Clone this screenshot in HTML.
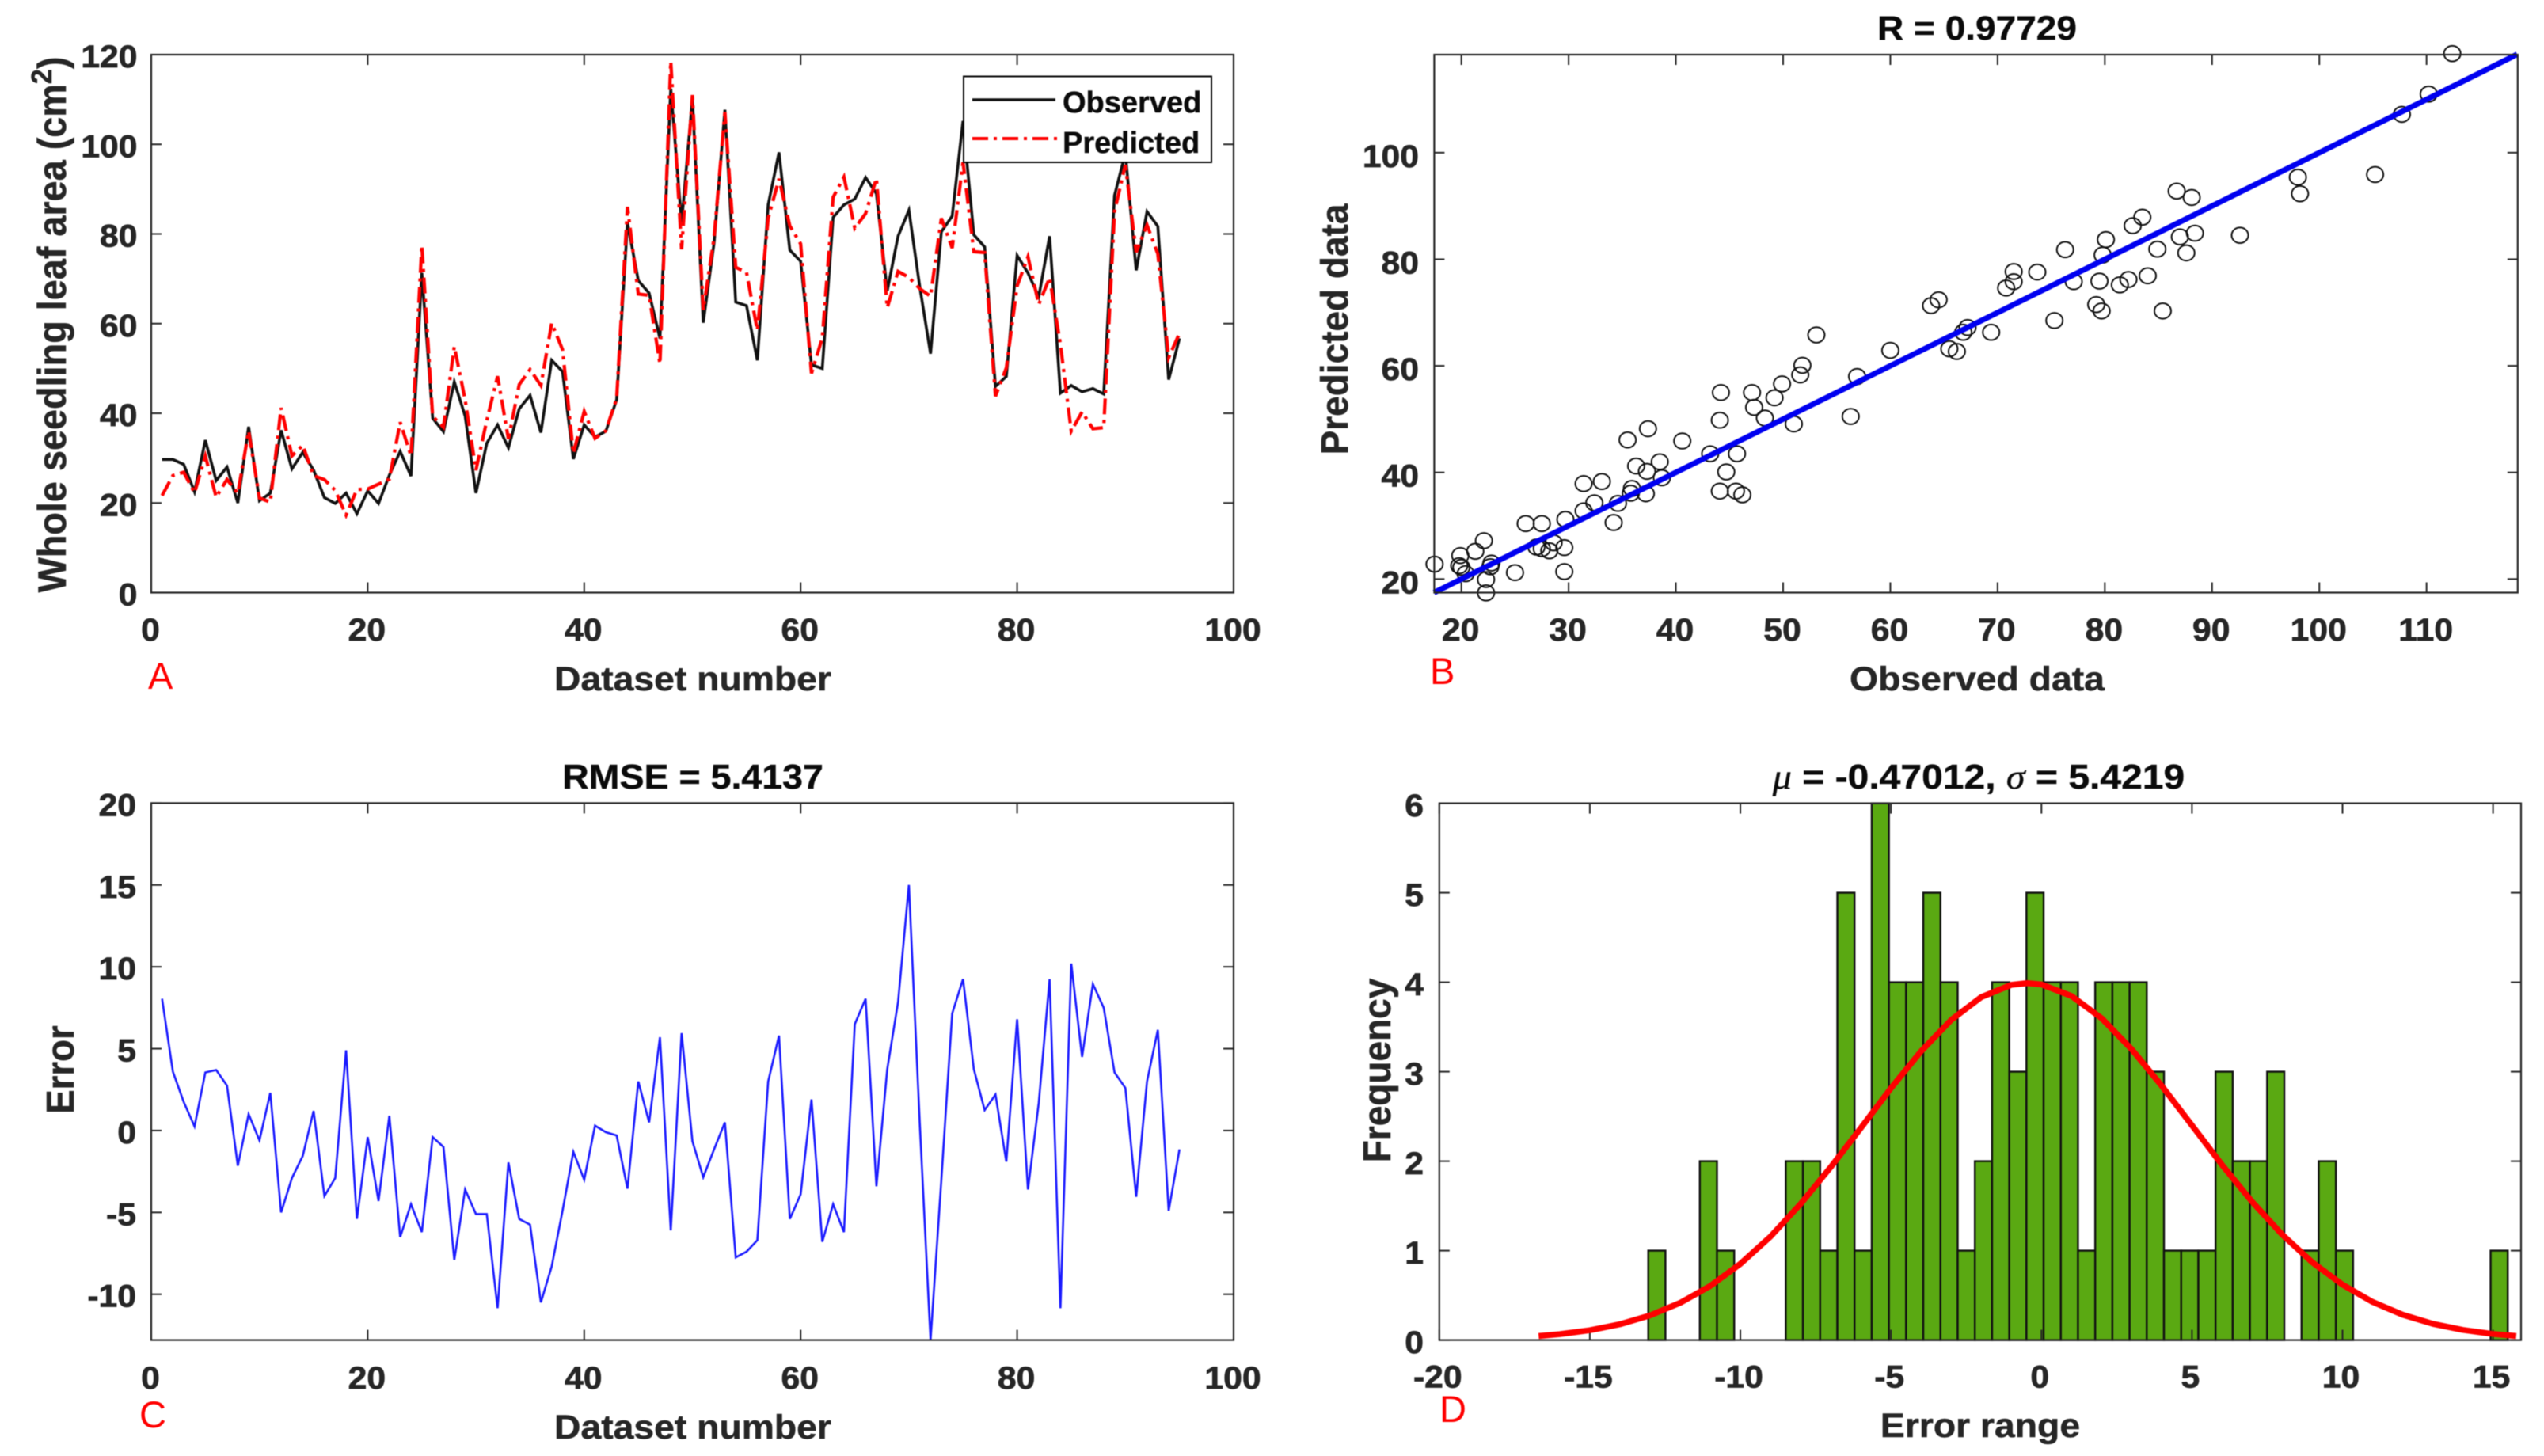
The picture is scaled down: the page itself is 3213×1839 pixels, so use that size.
<!DOCTYPE html>
<html lang="en">
<head>
<meta charset="utf-8">
<title>Leaf area model evaluation</title>
<style>
html,body{margin:0;padding:0;background:#fff;}
svg{display:block;filter:blur(0.6px);}
text{font-family:"Liberation Sans",sans-serif;}
.b{font-weight:bold;stroke:#262626;stroke-width:0.5px;}
.dark{fill:#262626;}
.blk{fill:#0a0a0a;}
.tag{fill:#ff0000;font-size:47px;font-weight:normal;}
</style>
</head>
<body>
<svg id="figure" xmlns="http://www.w3.org/2000/svg" width="3213" height="1839" viewBox="0 0 3213 1839">
<rect x="0" y="0" width="3213" height="1839" fill="#ffffff"/>
<g id="panelA"></g>
<g id="panelB"></g>
<g id="panelC"></g>
<g id="panelD"></g>

<g>
<rect x="1217" y="96.5" width="313" height="108.5" fill="#ffffff" stroke="#0a0a0a" stroke-width="2"/>
<line x1="1228" y1="126" x2="1333" y2="126" stroke="#111111" stroke-width="3.4"/>
<line x1="1228" y1="175" x2="1336" y2="175" stroke="#ff0000" stroke-width="4" stroke-dasharray="20 7 4 7"/>
<text class="b blk" font-size="38" transform="translate(1342,142) scale(1,1)">Observed</text>
<text class="b blk" font-size="38" transform="translate(1342,193) scale(1,1)">Predicted</text>
</g>

<text class="b dark" font-size="43" text-anchor="middle" transform="translate(875,872) scale(1.077,1)">Dataset number</text>
<text class="b dark" font-size="46.8" text-anchor="middle" transform="translate(83,410) rotate(-90) scale(1,1.06)">Whole seedling leaf area (cm<tspan font-size="34" dy="-17">2</tspan><tspan dy="17">)</tspan></text>
<text class="tag" x="187" y="870">A</text>

<text class="b blk" font-size="43" text-anchor="middle" transform="translate(2497,50) scale(1.07,1)">R = 0.97729</text>
<text class="b dark" font-size="43" text-anchor="middle" transform="translate(2497,872) scale(1.078,1)">Observed data</text>
<text class="b dark" font-size="46" text-anchor="middle" transform="translate(1702,416) rotate(-90) scale(1,1.04)">Predicted data</text>
<text class="tag" x="1806" y="864">B</text>

<text class="b blk" font-size="44" text-anchor="middle" transform="translate(875,996) scale(1.058,1)">RMSE = 5.4137</text>
<text class="b dark" font-size="43" text-anchor="middle" transform="translate(875,1817) scale(1.077,1)">Dataset number</text>
<text class="b dark" font-size="45.6" text-anchor="middle" transform="translate(93,1351) rotate(-90) scale(1,1.07)">Error</text>
<text class="tag" x="176" y="1803">C</text>

<text class="b blk" font-size="44" text-anchor="middle" transform="translate(2499,996) scale(1.092,1)"><tspan font-family="Liberation Serif, serif" font-style="italic" font-weight="normal">μ</tspan> = -0.47012, <tspan font-family="Liberation Serif, serif" font-style="italic" font-weight="normal">σ</tspan> = 5.4219</text>
<text class="b dark" font-size="43" text-anchor="middle" transform="translate(2501,1815) scale(1.077,1)">Error range</text>
<text class="b dark" font-size="46" text-anchor="middle" transform="translate(1756,1352) rotate(-90) scale(1,1.07)">Frequency</text>
<text class="tag" x="1818" y="1796">D</text>
</svg>

<script>
// ---- Panel A / C data (dataset number 1..95) ----
const observed = [29.7,29.7,28.6,22.5,34,25,28,20,37,20.5,22.2,36.2,27.6,31.3,27.3,21.2,19.9,22.2,17.6,22.7,
19.9,26.2,31.5,26,71.3,38.9,35.9,47,39.4,22.2,33.3,37.4,32.3,41,44,35.7,51.8,49.3,29.8,37.4,
34.7,36,43,82.5,69.6,66.8,56.7,112.4,82.5,110.2,60.2,78,107.7,64.8,64,51.8,86.5,98.2,76.4,73.9,
50.8,50,83.7,86.5,87.8,92.6,89,67.3,79.5,85.3,68.3,53.3,80.5,84,105.2,79.8,77.1,46,48.2,75.2,
71.3,66,79.5,44.5,46.2,44.8,45.5,44.3,88.6,98,71.9,85,81.7,47.5,56.7];
const predicted = [21.65,26.1,26.85,22.25,30.45,21.3,25.25,22.15,36,21.1,20.2,41.2,30.5,32.85,26.1,25.2,22.8,17.3,23,23.1,
24.2,25.3,38,30.5,77.5,39.3,36.9,54.9,43,27.3,38.4,48.25,34.25,46.4,49.75,46.2,60.1,54.2,31.1,40.4,
34.4,36.1,43.3,86.05,66.6,66.3,51,118.5,76.55,111,63.05,79.15,107.2,72.55,71.4,58.5,83.5,92.3,81.8,77.8,
48.9,56.8,88.2,92.7,81.3,84.55,92.4,63.55,71.65,70.3,67.8,66.1,83.5,76.85,96,76.05,75.85,43.8,50.1,68.4,
74.9,64.3,70.25,55.35,36,40.3,36.55,36.8,85.05,95.4,75.95,82,75.55,52.4,57.85];
const errorValues = [8.05,3.6,1.75,0.25,3.55,3.7,2.75,-2.15,1,-0.6,2.3,-5,-2.9,-1.55,1.2,-4,-2.9,4.9,-5.4,-0.4,
-4.3,0.9,-6.5,-4.5,-6.2,-0.4,-1,-7.9,-3.6,-5.1,-5.1,-10.85,-1.95,-5.4,-5.75,-10.5,-8.3,-4.9,-1.3,-3,
0.3,-0.1,-0.3,-3.55,3,0.5,5.7,-6.1,5.95,-0.65,-2.85,-1.15,0.5,-7.75,-7.4,-6.7,3,5.8,-5.4,-3.9,
1.9,-6.8,-4.5,-6.2,6.5,8.05,-3.4,3.75,7.85,15,0.5,-12.8,-3,7.15,9.25,3.75,1.25,2.2,-1.9,6.8,
-3.6,1.7,9.25,-10.85,10.2,4.5,8.95,7.5,3.55,2.6,-4.05,3,6.15,-4.9,-1.15];

// ---- Panel B data ----
const scatterObserved = [17.5,19.9,19.8,20,20.4,21.3,22.1,22.3,22.3,22.8,22.7,25,26,27.5,27,27.5,28.2,28.6,29.7,29.6,
29.6,31.4,31.4,32.4,33.1,34.2,34.6,35.5,35.9,35.8,36.3,37.3,37.2,37.4,38.5,38.7,40.6,43.2,44.2,44.1,
44.1,44.7,45.7,45.6,46.2,47.1,47.3,48.3,49.2,49.9,51,51.6,51.8,53.1,56.3,56.9,60,63.8,64.5,65.5,
66.2,66.8,67.2,69.4,70.8,71.5,71.5,73.7,75.3,76.3,77.1,79.2,79.7,79.5,79.8,80.1,81.4,82.2,82.6,83.5,
84,84.9,85.4,86.7,87,87.6,88.1,88.4,92.6,98,98.2,105.2,107.7,110.2,112.4];
const scatterPredicted = [22.8,24.4,22.5,22.2,21,25.2,27.2,19.9,17.4,23,22.3,21.2,30.4,30.4,26,25.7,25.3,26.8,31.2,25.9,
21.4,32.8,37.9,34.3,38.3,30.6,34.2,46.1,37,36.1,41.2,40.2,36,48.2,42,39,45.9,43.5,55,49.8,
36.5,40.1,43.5,36.5,35.8,55,52.2,50.2,54,56.6,49.1,58.3,60.1,65.8,50.5,58,62.9,71.3,72.4,63.2,
62.7,66.3,67.2,66.3,74.6,75.8,77.7,77.6,68.5,81.8,75.8,71.5,70.3,75.9,80.8,83.7,75.2,76.2,86.3,87.9,
76.9,81.9,70.3,92.8,84.2,81.2,91.6,84.9,84.5,95.4,92.3,95.9,107.2,111,118.6];
const fitLineX = [17.45,118.45];
const fitLineY = [17.45,118.45];

// ---- Panel D data ----
const binCounts = [1,0,0,2,1,0,0,0,2,2,1,5,1,6,4,4,5,4,1,2,4,3,5,4,4,1,4,4,4,3,1,1,1,3,2,2,3,0,1,2,1,0,0,0,0,0,0,0,0,1];
const binStart = -13.06;
const binWidth = 0.571;
const curveX = [-16.7,-16,-15,-14,-13,-12,-11,-10,-9,-8,-7,-6,-5,-4,-3,-2,-1,-0.47,0,1,2,3,4,5,6,7,8,9,10,11,12,13,14,15,15.77];
const curveY = [0.045,0.066,0.11,0.177,0.276,0.416,0.605,0.852,1.157,1.522,1.933,2.37,2.815,3.228,3.578,3.834,3.971,3.99,3.975,3.846,3.597,3.25,2.84,2.4,1.958,1.545,1.178,0.868,0.619,0.426,0.283,0.182,0.113,0.068,0.045];

// ---- Tick labels ----
const datasetTicks = [0,20,40,60,80,100];
const leafAreaTicks = [0,20,40,60,80,100,120];
const scatterXTicks = [20,30,40,50,60,70,80,90,100,110];
const scatterYTicks = [20,40,60,80,100];
const errorTicks = [-10,-5,0,5,10,15,20];
const rangeTicks = [-20,-15,-10,-5,0,5,10,15];
const frequencyTicks = [0,1,2,3,4,5,6];

const NS = 'http://www.w3.org/2000/svg';
function make(tag, parent, attrs) {
  const el = document.createElementNS(NS, tag);
  for (const k in attrs) el.setAttribute(k, attrs[k]);
  parent.appendChild(el);
  return el;
}
function scale(d0, d1, r0, r1) {
  return function (v) { return r0 + (v - d0) * (r1 - r0) / (d1 - d0); };
}
function pointsOf(xs, ys, fx, fy) {
  return xs.map(function (x, i) { return fx(x).toFixed(2) + ',' + fy(ys[i]).toFixed(2); }).join(' ');
}
const INK = '#262626';

function drawAxes(g, box, fx, fy, xTicks, yTicks, opt) {
  const frame = make('rect', g, {x: box.l, y: box.t, width: box.r - box.l, height: box.b - box.t, fill: 'none', stroke: INK, 'stroke-width': 2.2});
  
  
  xTicks.forEach(function (v) {
    const x = fx(v);
    const bottom = make('line', g, {x1: x, x2: x, y1: box.b, y2: box.b - 13, stroke: INK, 'stroke-width': 2});
    
    
    const top = make('line', g, {x1: x, x2: x, y1: box.t, y2: box.t + 13, stroke: INK, 'stroke-width': 2});
    
    
    const label = make('text', g, {'text-anchor': 'middle', 'font-size': opt.font, 'font-weight': 'bold', fill: INK, stroke: INK, 'stroke-width': 0.7,
      transform: 'translate(' + (x + opt.xShift) + ',' + opt.xBase + ') scale(' + opt.stretch + ',1)'});
    
    
    label.textContent = String(v);
  });
  yTicks.forEach(function (v) {
    const y = fy(v);
    const left = make('line', g, {x1: box.l, x2: box.l + 13, y1: y, y2: y, stroke: INK, 'stroke-width': 2});
    
    
    const right = make('line', g, {x1: box.r, x2: box.r - 13, y1: y, y2: y, stroke: INK, 'stroke-width': 2});
    
    
    const label = make('text', g, {'text-anchor': 'end', 'font-size': opt.font, 'font-weight': 'bold', fill: INK, stroke: INK, 'stroke-width': 0.7,
      transform: 'translate(' + opt.yRight + ',' + (y + opt.yDrop) + ') scale(' + opt.stretch + ',1)'});
    
    
    label.textContent = String(v);
  });
}

// Panel A
(function () {
  const g = document.getElementById('panelA');
  const box = {l: 191, r: 1558, t: 69, b: 748.5};
  const fx = scale(0, 100, box.l, box.r);
  const fy = scale(0, 120, box.b, box.t);
  const index = observed.map(function (_, i) { return i + 1; });
  const obsLine = make('polyline', g, {points: pointsOf(index, observed, fx, fy), fill: 'none', stroke: '#111111', 'stroke-width': 3.6, 'stroke-linejoin': 'miter'});
  
  
  const predLine = make('polyline', g, {points: pointsOf(index, predicted, fx, fy), fill: 'none', stroke: '#ff0000', 'stroke-width': 4.2, 'stroke-dasharray': '20 7 4 7'});
  
  
  drawAxes(g, box, fx, fy, datasetTicks, leafAreaTicks, {font: 39.5, stretch: 1.08, xBase: 809, xShift: -1, yRight: 173.5, yDrop: 16});
})();

// Panel B
(function () {
  const g = document.getElementById('panelB');
  const box = {l: 1811.4, r: 3179.8, t: 69, b: 748.5};
  const fx = scale(17.47, 118.5, box.l, box.r);
  const fy = scale(17.45, 118.4, box.b, box.t);
  scatterObserved.forEach(function (v, i) {
    const c = make('ellipse', g, {cx: fx(v), cy: fy(scatterPredicted[i]), rx: 10.5, ry: 9.8, fill: 'none', stroke: '#111111', 'stroke-width': 2});
    
    
  });
  const fit = make('line', g, {x1: fx(fitLineX[0]), y1: fy(fitLineY[0]), x2: fx(fitLineX[1]), y2: fy(fitLineY[1]), stroke: '#0000f0', 'stroke-width': 7});
  
  
  drawAxes(g, box, fx, fy, scatterXTicks, scatterYTicks, {font: 39.5, stretch: 1.08, xBase: 809, xShift: -1, yRight: 1792, yDrop: 18});
})();

// Panel C
(function () {
  const g = document.getElementById('panelC');
  const box = {l: 191, r: 1558, t: 1014.4, b: 1692.6};
  const fx = scale(0, 100, box.l, box.r);
  const fy = scale(-12.8, 20, box.b, box.t);
  const index = errorValues.map(function (_, i) { return i + 1; });
  const line = make('polyline', g, {points: pointsOf(index, errorValues, fx, fy), fill: 'none', stroke: '#1a1aff', 'stroke-width': 2.6});
  
  
  drawAxes(g, box, fx, fy, datasetTicks, errorTicks, {font: 39.5, stretch: 1.08, xBase: 1754, xShift: -1, yRight: 172, yDrop: 16});
})();

// Panel D
(function () {
  const g = document.getElementById('panelD');
  const box = {l: 1817.8, r: 3184, t: 1014.6, b: 1692.6};
  const fx = scale(-20, 15.93, box.l, box.r);
  const fy = scale(0, 6, box.b, box.t);
  binCounts.forEach(function (count, i) {
    const x0 = fx(binStart + i * binWidth);
    const x1 = fx(binStart + (i + 1) * binWidth);
    const bar = make('rect', g, {x: x0, y: fy(count), width: x1 - x0, height: fy(0) - fy(count), fill: '#5aa912', stroke: '#111111', 'stroke-width': 2.4});
    
    
  });
  drawAxes(g, box, fx, fy, rangeTicks, frequencyTicks, {font: 39.5, stretch: 1.08, xBase: 1752.5, xShift: -2, yRight: 1798, yDrop: 16.5});
  const curve = make('polyline', g, {points: pointsOf(curveX, curveY, fx, fy), fill: 'none', stroke: '#ff0000', 'stroke-width': 7.5, 'stroke-linejoin': 'round'});
  
  
})();
</script>
</body>
</html>
